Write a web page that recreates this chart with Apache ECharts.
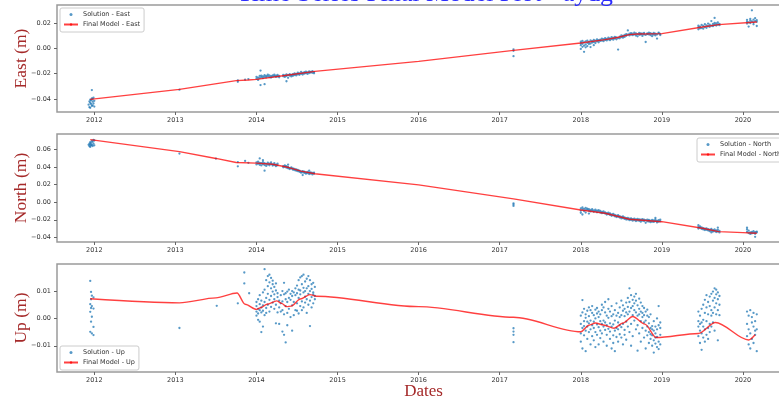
<!DOCTYPE html>
<html>
<head>
<meta charset="utf-8">
<script src="https://cdn.jsdelivr.net/npm/echarts@6/dist/echarts.min.js"></script>
<style>
  html, body { margin: 0; padding: 0; background: #ffffff; }
  #chart { width: 779px; height: 397px; }
</style>
</head>
<body>
<div id="chart"></div>
<script>
// Tick positions
const yearTicks = [2012, 2013, 2014, 2015, 2016, 2017, 2018, 2019, 2020];
const eastTicks = [-0.04, -0.02, 0.00, 0.02];
const northTicks = [-0.04, -0.02, 0.00, 0.02, 0.04, 0.06];
const upTicks = [-0.01, 0.00, 0.01];

// Daily solutions, one row per epoch: [decimal year, value, value, ...] (m)
const eastSolution = [
  [2011.93, -0.0445], [2011.94, -0.0465, -0.0420], [2011.95, -0.0430, -0.0470, -0.0405],
  [2011.96, -0.0410, -0.0440], [2011.97, -0.0395, -0.0455, -0.0330], [2011.98, -0.0420, -0.0400, -0.0450],
  [2011.99, -0.0435, -0.0390], [2012.00, -0.0415, -0.0460],
  [2013.05, -0.0327], [2013.77, -0.0253, -0.0265], [2013.86, -0.0248], [2013.90, -0.0243],
  [2014.00, -0.0240, -0.0225], [2014.02, -0.0232, -0.0250], [2014.04, -0.0218, -0.0236],
  [2014.05, -0.0290, -0.0176], [2014.06, -0.0228, -0.0215], [2014.08, -0.0235, -0.0221],
  [2014.10, -0.0226, -0.0212, -0.0283], [2014.12, -0.0230, -0.0218], [2014.14, -0.0222, -0.0209],
  [2014.16, -0.0227, -0.0214], [2014.18, -0.0219, -0.0231], [2014.20, -0.0213, -0.0224],
  [2014.22, -0.0220, -0.0208], [2014.24, -0.0226, -0.0215], [2014.26, -0.0211, -0.0222],
  [2014.28, -0.0218, -0.0229], [2014.33, -0.0221, -0.0210], [2014.35, -0.0226, -0.0214],
  [2014.37, -0.0207, -0.0219, -0.0260], [2014.39, -0.0233, -0.0212], [2014.41, -0.0216, -0.0204],
  [2014.43, -0.0211, -0.0222], [2014.45, -0.0205, -0.0217], [2014.47, -0.0198, -0.0211],
  [2014.49, -0.0214, -0.0202], [2014.51, -0.0193, -0.0206], [2014.53, -0.0209, -0.0199],
  [2014.55, -0.0186, -0.0201], [2014.57, -0.0195, -0.0207], [2014.59, -0.0189, -0.0200],
  [2014.61, -0.0196, -0.0184], [2014.63, -0.0190, -0.0202], [2014.65, -0.0183, -0.0195],
  [2014.67, -0.0192, -0.0186], [2014.69, -0.0180, -0.0194], [2014.71, -0.0188, -0.0197],
  [2017.17, -0.0008, -0.0020, -0.0062],
  [2018.00, 0.0040, 0.0025, 0.0052, -0.0005], [2018.02, 0.0036, 0.0058, 0.0012],
  [2018.04, 0.0047, 0.0021, -0.0028], [2018.06, 0.0055, 0.0030, 0.0008],
  [2018.08, 0.0043, 0.0061, 0.0017], [2018.10, 0.0050, 0.0034], [2018.12, 0.0038, 0.0062, 0.0010],
  [2018.14, 0.0057, 0.0045], [2018.16, 0.0049, 0.0066, 0.0025], [2018.18, 0.0060, 0.0042],
  [2018.20, 0.0055, 0.0071], [2018.22, 0.0064, 0.0048], [2018.24, 0.0069, 0.0058],
  [2018.26, 0.0061, 0.0077], [2018.28, 0.0072, 0.0056], [2018.30, 0.0066, 0.0080],
  [2018.32, 0.0075, 0.0062], [2018.34, 0.0070, 0.0085], [2018.36, 0.0078, 0.0064],
  [2018.38, 0.0073, 0.0089], [2018.40, 0.0082, 0.0068], [2018.42, 0.0077, 0.0091],
  [2018.44, 0.0086, 0.0071], [2018.46, 0.0080, -0.0010], [2018.48, 0.0093, 0.0079],
  [2018.50, 0.0088, 0.0101], [2018.52, 0.0097, 0.0084], [2018.54, 0.0105, 0.0090],
  [2018.56, 0.0099, 0.0112], [2018.58, 0.0108, 0.0141], [2018.60, 0.0115, 0.0102],
  [2018.62, 0.0109, 0.0120], [2018.64, 0.0116, 0.0104], [2018.66, 0.0110, 0.0124],
  [2018.68, 0.0118, 0.0101], [2018.70, 0.0112, 0.0095], [2018.72, 0.0121, 0.0107],
  [2018.74, 0.0109, 0.0117], [2018.76, 0.0115, 0.0098], [2018.78, 0.0122, 0.0110],
  [2018.80, 0.0106, 0.0050], [2018.82, 0.0117, 0.0112], [2018.84, 0.0110, 0.0123],
  [2018.86, 0.0119, 0.0104], [2018.88, 0.0113, 0.0096], [2018.90, 0.0121, 0.0108],
  [2018.92, 0.0115, 0.0102], [2018.94, 0.0110, 0.0077], [2018.96, 0.0118, 0.0124],
  [2018.98, 0.0113, 0.0105],
  [2019.45, 0.0165, 0.0150, 0.0178], [2019.47, 0.0172, 0.0158], [2019.49, 0.0160, 0.0185],
  [2019.51, 0.0176, 0.0155], [2019.53, 0.0168, 0.0190], [2019.55, 0.0181, 0.0162],
  [2019.57, 0.0174, 0.0195], [2019.59, 0.0186, 0.0170], [2019.61, 0.0179, 0.0215],
  [2019.63, 0.0192, 0.0175], [2019.65, 0.0184, 0.0240, 0.0200], [2019.67, 0.0196, 0.0180],
  [2019.69, 0.0188, 0.0205], [2019.71, 0.0193, 0.0183],
  [2020.05, 0.0210, 0.0195, 0.0225], [2020.07, 0.0205, 0.0172], [2020.09, 0.0218, 0.0200, 0.0232],
  [2020.11, 0.0213, 0.0300], [2020.13, 0.0205, 0.0226, 0.0190], [2020.15, 0.0215, 0.0238],
  [2020.17, 0.0209, 0.0176, 0.0222]
];

const northSolution = [
  [2011.93, 0.0655], [2011.94, 0.0640, 0.0668], [2011.95, 0.0632, 0.0660, 0.0685],
  [2011.96, 0.0648, 0.0675], [2011.97, 0.0700, 0.0655], [2011.98, 0.0642, 0.0690],
  [2011.99, 0.0668, 0.0712], [2012.00, 0.0705, 0.0650],
  [2013.05, 0.0555], [2013.50, 0.0498], [2013.77, 0.0458, 0.0410], [2013.86, 0.0472], [2013.90, 0.0450],
  [2014.00, 0.0455, 0.0432], [2014.02, 0.0440, 0.0462], [2014.04, 0.0428, 0.0450, 0.0500],
  [2014.06, 0.0446, 0.0420], [2014.08, 0.0435, 0.0458, 0.0480], [2014.10, 0.0424, 0.0447, 0.0360],
  [2014.12, 0.0438, 0.0415], [2014.14, 0.0452, 0.0430], [2014.16, 0.0422, 0.0441],
  [2014.18, 0.0436, 0.0455], [2014.20, 0.0418, 0.0432], [2014.22, 0.0445, 0.0426],
  [2014.24, 0.0430, 0.0412], [2014.26, 0.0421, 0.0440], [2014.33, 0.0412, 0.0398],
  [2014.35, 0.0405, 0.0420], [2014.37, 0.0395, 0.0411], [2014.39, 0.0402, 0.0388, 0.0430],
  [2014.41, 0.0390, 0.0378], [2014.43, 0.0384, 0.0398], [2014.45, 0.0372, 0.0386],
  [2014.47, 0.0366, 0.0380], [2014.49, 0.0375, 0.0360], [2014.51, 0.0355, 0.0369],
  [2014.53, 0.0362, 0.0348], [2014.55, 0.0350, 0.0338], [2014.57, 0.0342, 0.0356, 0.0310],
  [2014.59, 0.0335, 0.0348], [2014.61, 0.0340, 0.0326], [2014.63, 0.0332, 0.0345],
  [2014.65, 0.0338, 0.0322, 0.0360], [2014.67, 0.0328, 0.0342], [2014.69, 0.0335, 0.0318],
  [2014.71, 0.0326, 0.0339],
  [2017.17, -0.0012, -0.0025, -0.0042],
  [2018.00, -0.0070, -0.0095, -0.0120], [2018.02, -0.0082, -0.0060, -0.0140], [2018.04, -0.0075, -0.0100],
  [2018.06, -0.0065, -0.0090, -0.0118], [2018.08, -0.0085, -0.0072], [2018.10, -0.0096, -0.0078, -0.0130],
  [2018.12, -0.0088, -0.0105], [2018.14, -0.0080, -0.0098], [2018.16, -0.0092, -0.0110],
  [2018.18, -0.0102, -0.0085], [2018.20, -0.0095, -0.0115], [2018.22, -0.0108, -0.0090],
  [2018.24, -0.0118, -0.0100], [2018.26, -0.0110, -0.0125], [2018.28, -0.0122, -0.0105],
  [2018.30, -0.0130, -0.0115], [2018.32, -0.0124, -0.0140], [2018.34, -0.0135, -0.0120],
  [2018.36, -0.0145, -0.0128], [2018.38, -0.0138, -0.0155], [2018.40, -0.0150, -0.0132],
  [2018.42, -0.0160, -0.0144], [2018.44, -0.0152, -0.0170], [2018.46, -0.0165, -0.0148],
  [2018.48, -0.0175, -0.0158], [2018.50, -0.0168, -0.0185], [2018.52, -0.0180, -0.0162],
  [2018.54, -0.0190, -0.0172], [2018.56, -0.0182, -0.0198], [2018.58, -0.0195, -0.0178],
  [2018.60, -0.0188, -0.0205], [2018.62, -0.0200, -0.0185], [2018.64, -0.0192, -0.0210],
  [2018.66, -0.0205, -0.0188], [2018.68, -0.0196, -0.0215], [2018.70, -0.0190, -0.0208],
  [2018.72, -0.0212, -0.0195], [2018.74, -0.0200, -0.0222], [2018.76, -0.0192, -0.0210],
  [2018.78, -0.0215, -0.0198], [2018.80, -0.0205, -0.0235], [2018.82, -0.0198, -0.0218],
  [2018.84, -0.0220, -0.0203], [2018.86, -0.0210, -0.0228], [2018.88, -0.0202, -0.0222],
  [2018.90, -0.0225, -0.0208], [2018.92, -0.0215, -0.0198, -0.0180], [2018.94, -0.0230, -0.0212],
  [2018.96, -0.0205, -0.0222], [2018.98, -0.0218, -0.0200],
  [2019.45, -0.0285, -0.0300, -0.0262], [2019.47, -0.0292, -0.0275], [2019.49, -0.0305, -0.0288],
  [2019.51, -0.0296, -0.0310], [2019.53, -0.0302, -0.0318], [2019.55, -0.0315, -0.0298],
  [2019.57, -0.0322, -0.0308], [2019.59, -0.0312, -0.0330], [2019.61, -0.0325, -0.0305, -0.0345],
  [2019.63, -0.0318, -0.0335], [2019.65, -0.0330, -0.0310], [2019.67, -0.0322, -0.0340],
  [2019.69, -0.0335, -0.0315, -0.0290], [2019.71, -0.0328, -0.0345],
  [2020.05, -0.0340, -0.0310, -0.0290], [2020.07, -0.0352, -0.0325], [2020.09, -0.0345, -0.0362],
  [2020.11, -0.0338, -0.0355], [2020.13, -0.0350, -0.0330], [2020.15, -0.0360, -0.0342, -0.0395],
  [2020.17, -0.0345, -0.0335]
];

const upSolution = [
  [2011.95, 0.0137, 0.0052, 0.0024, -0.0049], [2011.96, 0.0097, 0.0038, -0.0012, 0.0070],
  [2011.97, 0.0083, 0.0006, -0.0055, 0.0045], [2011.99, 0.0077, 0.0036, -0.0031, -0.0061],
  [2013.05, -0.0035], [2013.51, 0.0046], [2013.77, 0.0055], [2013.85, 0.0168, 0.0128], [2013.91, 0.0092],
  [2014.00, 0.0045, 0.0025, 0.0010, 0.0060], [2014.02, 0.0035, -0.0005, 0.0070, 0.0018],
  [2014.04, 0.0052, 0.0030, 0.0085, -0.0012], [2014.06, 0.0040, -0.0050, 0.0065, 0.0022],
  [2014.08, 0.0028, 0.0095, 0.0048, -0.0030], [2014.10, 0.0180, 0.0060, 0.0012, 0.0105],
  [2014.12, 0.0075, 0.0038, 0.0140, 0.0020], [2014.14, 0.0155, 0.0090, 0.0050, 0.0118],
  [2014.16, 0.0132, 0.0068, 0.0160, 0.0025], [2014.18, 0.0148, 0.0082, 0.0110, 0.0042],
  [2014.20, 0.0125, 0.0058, 0.0098, 0.0138], [2014.22, 0.0088, 0.0115, 0.0035, 0.0070],
  [2014.24, 0.0102, 0.0050, 0.0128, -0.0018], [2014.26, 0.0078, 0.0092, 0.0022],
  [2014.28, 0.0065, -0.0020, 0.0040], [2014.30, 0.0055, 0.0085, 0.0025],
  [2014.32, 0.0030, 0.0100, -0.0048, 0.0062], [2014.34, 0.0088, 0.0015, 0.0130, -0.0060],
  [2014.36, 0.0045, 0.0092, -0.0088, 0.0070], [2014.38, 0.0098, 0.0020, 0.0060, -0.0025],
  [2014.40, 0.0075, 0.0105, 0.0035], [2014.42, 0.0090, 0.0005, 0.0068],
  [2014.44, 0.0100, 0.0048, 0.0082, -0.0045], [2014.46, 0.0060, 0.0095, 0.0012],
  [2014.48, 0.0085, 0.0030, 0.0110], [2014.50, 0.0120, 0.0055, 0.0028, 0.0092],
  [2014.52, 0.0140, 0.0075, 0.0018, 0.0105], [2014.54, 0.0102, 0.0150, 0.0045, 0.0088],
  [2014.56, 0.0125, 0.0062, 0.0155, 0.0030], [2014.58, 0.0095, 0.0112, 0.0040, 0.0160],
  [2014.60, 0.0080, 0.0135, 0.0058, 0.0100], [2014.62, 0.0145, 0.0070, 0.0110, 0.0020],
  [2014.64, 0.0090, 0.0155, 0.0050, 0.0118], [2014.66, 0.0065, 0.0100, -0.0028, 0.0140],
  [2014.68, 0.0108, 0.0078, 0.0125, 0.0040], [2014.70, 0.0088, 0.0130, 0.0055, 0.0095],
  [2014.72, 0.0070, 0.0115, 0.0082],
  [2017.17, -0.0036, -0.0048, -0.0060, -0.0087],
  [2018.00, -0.0020, 0.0010, -0.0055, -0.0085], [2018.02, 0.0067, -0.0035, 0.0022, -0.0110],
  [2018.04, -0.0010, -0.0062, 0.0035, -0.0028], [2018.06, 0.0015, -0.0045, -0.0120, 0.0002],
  [2018.08, -0.0030, 0.0028, -0.0075, -0.0012], [2018.10, 0.0040, -0.0018, -0.0050, 0.0008],
  [2018.12, -0.0008, -0.0095, 0.0030, -0.0040], [2018.14, 0.0020, -0.0065, -0.0025, 0.0045],
  [2018.16, -0.0012, 0.0012, -0.0080, -0.0035], [2018.18, 0.0032, -0.0050, -0.0105, 0.0000],
  [2018.20, -0.0022, 0.0018, -0.0060, 0.0038], [2018.22, 0.0005, -0.0095, -0.0032, 0.0025],
  [2018.24, -0.0045, 0.0015, -0.0010, -0.0072], [2018.26, 0.0030, -0.0020, -0.0055, 0.0050],
  [2018.28, -0.0008, 0.0040, -0.0085, -0.0030], [2018.30, 0.0022, -0.0042, 0.0060, -0.0015],
  [2018.32, -0.0060, 0.0010, -0.0025, -0.0100], [2018.34, 0.0035, -0.0038, 0.0002, 0.0070],
  [2018.36, -0.0018, -0.0075, 0.0025, -0.0048], [2018.38, 0.0008, -0.0110, -0.0030, 0.0045],
  [2018.40, -0.0062, 0.0015, -0.0090, -0.0022], [2018.42, 0.0030, -0.0045, -0.0008, -0.0120],
  [2018.44, -0.0035, 0.0055, -0.0068, 0.0010], [2018.46, 0.0020, -0.0015, -0.0085, -0.0040],
  [2018.48, -0.0058, 0.0040, -0.0025, 0.0005], [2018.50, 0.0012, -0.0070, 0.0065, -0.0032],
  [2018.52, -0.0020, 0.0028, -0.0095, 0.0048], [2018.54, 0.0035, -0.0042, 0.0008, -0.0060],
  [2018.56, 0.0058, -0.0012, 0.0022, -0.0078], [2018.58, 0.0042, 0.0075, -0.0030, 0.0015],
  [2018.60, 0.0110, 0.0025, -0.0050, 0.0060], [2018.62, 0.0038, 0.0085, -0.0020, -0.0100],
  [2018.64, 0.0068, 0.0012, 0.0045, -0.0065], [2018.66, 0.0080, 0.0030, -0.0008, 0.0055],
  [2018.68, 0.0022, 0.0065, -0.0040, 0.0090], [2018.70, 0.0048, -0.0025, 0.0010, -0.0118],
  [2018.72, 0.0035, 0.0072, -0.0055, 0.0015], [2018.74, 0.0058, -0.0010, 0.0025, -0.0085],
  [2018.76, 0.0020, 0.0045, -0.0035, 0.0005], [2018.78, -0.0015, 0.0038, -0.0070, 0.0012],
  [2018.80, 0.0025, -0.0045, -0.0008, -0.0110], [2018.82, -0.0030, 0.0010, -0.0062, 0.0032],
  [2018.84, -0.0050, -0.0018, -0.0090, 0.0005], [2018.86, -0.0035, -0.0075, 0.0015, -0.0058],
  [2018.88, -0.0062, -0.0028, -0.0100, -0.0040], [2018.90, -0.0080, -0.0045, -0.0010, -0.0125],
  [2018.92, -0.0055, -0.0092, -0.0030, -0.0070], [2018.94, -0.0040, -0.0105, -0.0068, 0.0000],
  [2018.96, -0.0085, -0.0025, -0.0112, 0.0045], [2018.98, -0.0060, -0.0035, -0.0095, -0.0015],
  [2019.45, 0.0025, -0.0030, -0.0065, -0.0010], [2019.47, -0.0045, 0.0010, -0.0090, -0.0020],
  [2019.49, 0.0035, -0.0055, -0.0015, -0.0115], [2019.51, -0.0030, 0.0050, -0.0070, -0.0005],
  [2019.53, 0.0020, -0.0040, 0.0068, -0.0085], [2019.55, -0.0010, 0.0040, -0.0060, 0.0085],
  [2019.57, 0.0015, -0.0035, 0.0060, -0.0075], [2019.59, 0.0045, -0.0020, 0.0080, -0.0050],
  [2019.61, 0.0030, 0.0090, -0.0030, 0.0010], [2019.63, 0.0065, -0.0015, 0.0098, 0.0020],
  [2019.65, 0.0110, 0.0040, -0.0045, 0.0075], [2019.67, 0.0105, 0.0055, 0.0015, 0.0088],
  [2019.69, 0.0070, 0.0030, 0.0095, -0.0080], [2019.71, 0.0050, 0.0082, 0.0012],
  [2020.05, 0.0025, -0.0020, -0.0065], [2020.07, -0.0040, 0.0010, -0.0095],
  [2020.09, 0.0030, -0.0055, -0.0110], [2020.11, -0.0015, -0.0075, 0.0005],
  [2020.13, -0.0030, 0.0020, -0.0090], [2020.15, -0.0060, -0.0010, -0.0045],
  [2020.17, 0.0015, -0.0040, -0.0120]
];

// Final model evaluated at the key epochs: [decimal year, value] (m)
const eastModel = [
  [2011.95, -0.0403], [2013.05, -0.0324], [2013.75, -0.0255], [2013.90, -0.0250], [2014.00, -0.0245],
  [2014.35, -0.0215], [2014.72, -0.0182], [2016.00, -0.0103], [2017.17, -0.0016], [2018.00, 0.0042],
  [2018.30, 0.0069], [2018.45, 0.0085], [2018.60, 0.0108], [2018.70, 0.0113], [2019.00, 0.0116],
  [2019.50, 0.0168], [2019.70, 0.0187], [2020.17, 0.0208]
];
const northModel = [
  [2011.95, 0.0715], [2013.05, 0.0578], [2013.50, 0.0500], [2013.75, 0.0453], [2014.00, 0.0446],
  [2014.20, 0.0434], [2014.40, 0.0396], [2014.55, 0.0355], [2014.72, 0.0325], [2016.00, 0.0198],
  [2017.17, 0.0038], [2018.00, -0.0088], [2018.30, -0.0126], [2018.60, -0.0194], [2019.00, -0.0222],
  [2019.50, -0.0297], [2019.70, -0.0336], [2020.00, -0.0347], [2020.17, -0.0354]
];
const upModel = [
  [2011.95, 0.0072], [2013.05, 0.0057], [2013.50, 0.0075], [2013.76, 0.0093], [2013.86, 0.0052],
  [2014.00, 0.0033], [2014.06, 0.0040], [2014.13, 0.0052], [2014.25, 0.0064], [2014.31, 0.0055],
  [2014.37, 0.0043], [2014.43, 0.0045], [2014.54, 0.0071], [2014.66, 0.0087], [2014.74, 0.0081],
  [2016.00, 0.0043], [2017.17, 0.0004], [2018.00, -0.0049], [2018.10, -0.0025], [2018.18, -0.0017],
  [2018.28, -0.0024], [2018.41, -0.0036], [2018.52, -0.0017], [2018.64, 0.0007], [2018.79, -0.0021],
  [2018.93, -0.0070], [2019.45, -0.0055], [2019.66, -0.0015], [2020.07, -0.0079], [2020.15, -0.0060]
];

function rowsToPoints(rows) {
  const pts = [];
  rows.forEach(r => { for (let i = 1; i < r.length; i++) pts.push([r[0], r[i]]); });
  return pts;
}

const SERIF = '"Liberation Serif", "Times New Roman", serif';
const SANS = '"DejaVu Sans", sans-serif';
const LABEL_RED = '#a52a2a';
const DOT_BLUE = '#1f77b4';

function fmt2(v) {
  const s = Math.abs(v) < 1e-9 ? '0.00' : v.toFixed(2);
  return s.replace('-', '\u2212');
}

const panels = [
  { top: 5,   height: 107, min: -0.0503, max: 0.0342, ticks: eastTicks,  name: 'East (m)',  sol: eastSolution,  model: eastModel,  key: 'East' },
  { top: 134, height: 108, min: -0.0454, max: 0.0779, ticks: northTicks, name: 'North (m)', sol: northSolution, model: northModel, key: 'North' },
  { top: 264, height: 108, min: -0.0196, max: 0.0199, ticks: upTicks,    name: 'Up (m)',    sol: upSolution,    model: upModel,    key: 'Up' }
];

const grids = [], xAxes = [], yAxes = [], series = [];
panels.forEach((p, i) => {
  grids.push({
    left: 57, top: p.top, width: 733, height: p.height,
    containLabel: false, outerBoundsMode: 'none',
    show: true, borderColor: '#9a9a9a', borderWidth: 1.5, backgroundColor: 'transparent'
  });
  xAxes.push({
    type: 'value', gridIndex: i, min: 2011.54, max: 2020.58, position: 'bottom',
    axisLine: { show: false, onZero: false },
    splitLine: { show: false },
    axisTick: { show: true, customValues: yearTicks, length: 3, lineStyle: { color: '#666', width: 1 } },
    axisLabel: { customValues: yearTicks, formatter: v => String(v), fontSize: 6.5, color: '#333', fontFamily: SANS, margin: 5 },
    name: i === 2 ? 'Dates' : '',
    nameLocation: 'middle', nameGap: 11, nameMoveOverlap: false,
    nameTextStyle: { fontFamily: SERIF, fontSize: 17, color: LABEL_RED, verticalAlign: 'top' }
  });
  yAxes.push({
    type: 'value', gridIndex: i, min: p.min, max: p.max, position: 'left',
    axisLine: { show: false, onZero: false },
    splitLine: { show: false },
    axisTick: { show: true, customValues: p.ticks, length: 3, lineStyle: { color: '#666', width: 1 } },
    axisLabel: { customValues: p.ticks, formatter: fmt2, fontSize: 6.5, color: '#333', fontFamily: SANS, margin: 6 },
    name: p.name, nameLocation: 'middle', nameGap: 27, nameMoveOverlap: false,
    nameTextStyle: { fontFamily: SERIF, fontSize: 17.5, color: LABEL_RED }
  });
  series.push({
    type: 'scatter', name: 'Solution - ' + p.key, xAxisIndex: i, yAxisIndex: i,
    data: rowsToPoints(p.sol), symbol: 'circle', symbolSize: 2.3,
    itemStyle: { color: DOT_BLUE, opacity: 0.75 }, z: 2
  });
  series.push({
    type: 'line', name: 'Final Model - ' + p.key, xAxisIndex: i, yAxisIndex: i,
    data: p.model, showSymbol: false, symbol: 'none',
    smooth: p.key === 'Up' ? 0.3 : false, smoothMonotone: 'x',
    lineStyle: { color: 'rgba(255,0,0,0.75)', width: 1.4 },
    itemStyle: { color: 'rgba(255,0,0,0.75)' }, z: 3
  });
});

function legendAt(key, left, top) {
  return {
    data: ['Solution - ' + key, 'Final Model - ' + key],
    left: left, top: top, orient: 'vertical',
    itemWidth: 14, itemHeight: 3, itemGap: 3,
    textStyle: { fontSize: 6.5, color: '#333', fontFamily: SANS },
    backgroundColor: 'rgba(255,255,255,0.8)', borderColor: '#cccccc', borderWidth: 1, borderRadius: 2,
    padding: [3, 4, 4, 3], selectedMode: false
  };
}

const chart = echarts.init(document.getElementById('chart'), null, { renderer: 'canvas' });
chart.setOption({
  animation: false,
  backgroundColor: '#ffffff',
  grid: grids,
  xAxis: xAxes,
  yAxis: yAxes,
  legend: [legendAt('East', 60, 8), legendAt('North', 697, 138), legendAt('Up', 60, 346)],
  graphic: [{
    type: 'text', left: 237, top: -18.5,
    style: { text: 'Time Series Final Model Plot - aydg', fontFamily: SERIF, fontSize: 25.8, fill: '#2b2bff' }
  }],
  series: series
});
</script>
</body>
</html>
